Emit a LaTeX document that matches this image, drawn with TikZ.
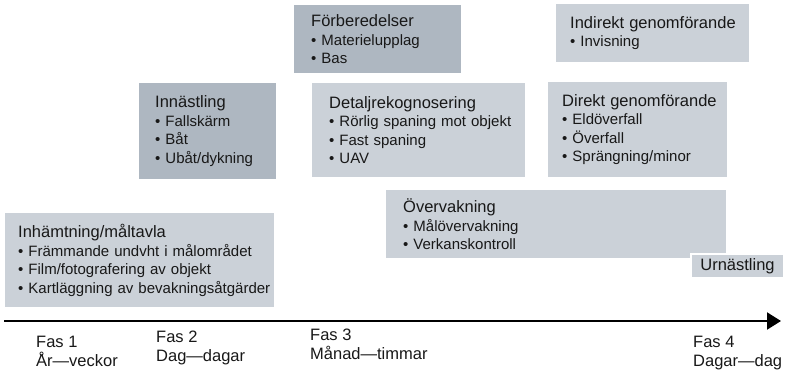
\documentclass[tikz,border=0pt]{standalone}
\usepackage{fontspec}
\setmainfont{Liberation Sans}
\usetikzlibrary{arrows.meta}

\definecolor{boxlight}{RGB}{203,209,216}
\definecolor{boxdark}{RGB}{174,183,193}
\definecolor{inktext}{RGB}{24,24,24}

\newcommand{\boxhead}[1]{\mbox{\fontsize{16.5}{18.5}\selectfont #1}}
\newcommand{\boxitem}[1]{\mbox{\textbullet\ #1}}

\begin{document}
\begin{tikzpicture}[
  x=1pt, y=-1pt,
  lbox/.style  = {fill=boxlight, anchor=north west, align=left,
                  inner ysep=0pt, text=inktext,
                  font=\fontsize{15}{18.5}\selectfont},
  dbox/.style  = {lbox, fill=boxdark},
  endbox/.style= {fill=boxlight, draw=white, line width=2pt,
                  anchor=north west, inner sep=0pt, text=inktext,
                  font=\fontsize{16.5}{18.5}\selectfont},
  axlbl/.style = {anchor=base west, align=left, inner sep=0pt,
                  text=inktext, font=\fontsize{16.5}{18.5}\selectfont},
  axarr/.style = {-{Triangle[length=14pt,width=17pt]}, line width=2pt},
]
\useasboundingbox (0,0) rectangle (791,370);

% Phase boxes
\node[lbox, minimum width=269, minimum height=94, inner xsep=13pt,
      text width=243] (inh) at (5,213)
  {\boxhead{Inhämtning/måltavla}\\
   \boxitem{Främmande undvht i målområdet}\\
   \boxitem{Film/fotografering av objekt}\\
   \boxitem{Kartläggning av bevakningsåtgärder}};
\node[dbox, minimum width=137, minimum height=96, inner xsep=16pt,
      text width=105] (inn) at (139,83)
  {\boxhead{Innästling}\\
   \boxitem{Fallskärm}\\
   \boxitem{Båt}\\
   \boxitem{Ubåt/dykning}};
\node[dbox, minimum width=167, minimum height=68, inner xsep=17pt,
      text width=133] (forb) at (294,5)
  {\boxhead{Förberedelser}\\
   \boxitem{Materielupplag}\\
   \boxitem{Bas}};
\node[lbox, minimum width=213, minimum height=94, inner xsep=17pt,
      text width=179] (detalj) at (312,83)
  {\boxhead{Detaljrekognosering}\\
   \boxitem{Rörlig spaning mot objekt}\\
   \boxitem{Fast spaning}\\
   \boxitem{UAV}};
\node[lbox, minimum width=340, minimum height=68, inner xsep=17pt,
      text width=306] (overv) at (386,190)
  {\boxhead{Övervakning}\\
   \boxitem{Målövervakning}\\
   \boxitem{Verkanskontroll}};
\node[lbox, minimum width=193, minimum height=58, inner xsep=14pt,
      text width=165] (indir) at (556,4)
  {\boxhead{Indirekt genomförande}\\
   \boxitem{Invisning}};
\node[lbox, minimum width=179, minimum height=95, inner xsep=14pt,
      text width=151] (direkt) at (548,82)
  {\boxhead{Direkt genomförande}\\
   \boxitem{Eldöverfall}\\
   \boxitem{Överfall}\\
   \boxitem{Sprängning/minor}};
\node[endbox, minimum width=93, minimum height=24] (urn) at (690,253)
  {Urnästling};

% Time axis
\coordinate (ax0) at (4,321);
\coordinate (ax1) at (781,321);
\draw[axarr] (ax0) -- (ax1);

\node[axlbl] (fas1) at (36,366)  {Fas 1\\År—veckor};
\node[axlbl] (fas2) at (156,361) {Fas 2\\Dag—dagar};
\node[axlbl] (fas3) at (310,359) {Fas 3\\Månad—timmar};
\node[axlbl] (fas4) at (693,366) {Fas 4\\Dagar—dag};

\end{tikzpicture}
\end{document}
